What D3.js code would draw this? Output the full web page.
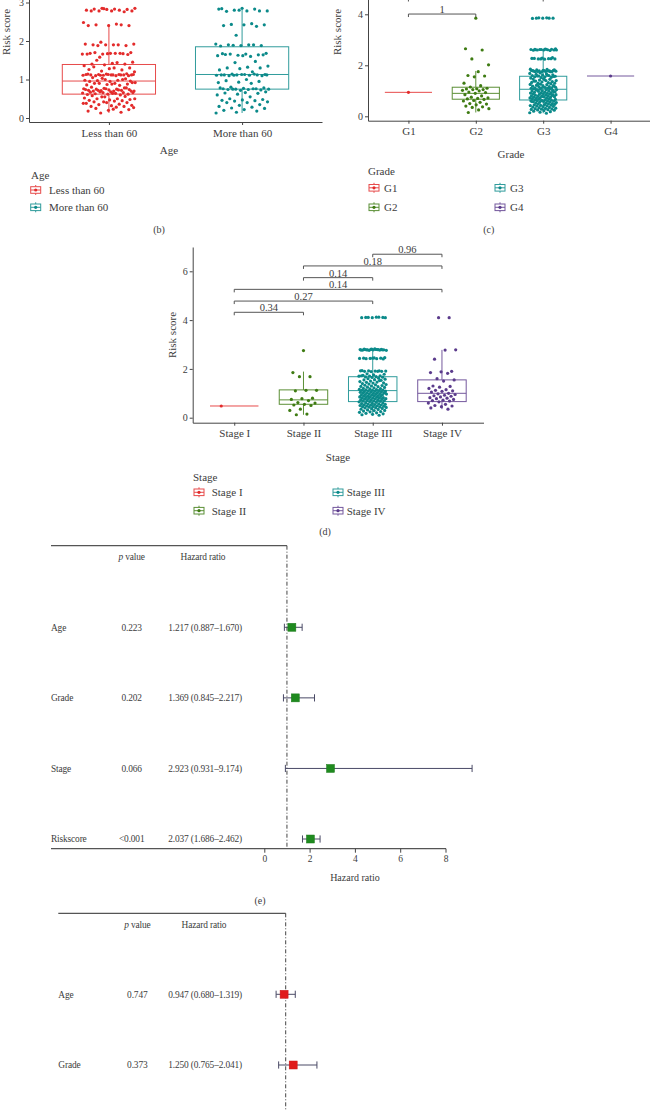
<!DOCTYPE html>
<html><head><meta charset="utf-8">
<script src="https://cdn.jsdelivr.net/npm/d3@7"></script>
<style>
body{margin:0;background:#fff}
svg{display:block;font-family:"Liberation Serif","DejaVu Serif",serif}
</style>
</head><body>
<svg id="chart" width="650" height="1110"></svg>
<script>
// ---------------- DATA ----------------
// Panel (b): risk score by age
const ageCats = ["Less than 60", "More than 60"];
const ageLess = [2.85,2.85,2.83,2.83,2.82,2.82,2.8,2.8,2.78,2.78,2.78,2.78,2.76,2.84,
  2.48,2.44,2.42,2.4,2.4,2.4,2.42,
  1.97,1.92,1.9,1.9,1.88,1.9,1.92,1.9,1.88,
  1.7,1.68,1.68,1.67,1.66,1.66,1.68,1.7,1.65,1.67,1.66,1.68,
  1.58,1.45,1.42,1.4,1.4,1.38,1.36,1.44,1.5,
  1.3,1.28,1.26,1.25,1.22,1.2,1.3,1.33,
  1.15,1.14,1.13,1.13,1.13,1.12,1.12,1.12,1.12,1.11,1.11,1.1,1.1,1.1,1.13,1.14,1.12,1.11,1.13,1.12,
  1.05,1.02,1.0,0.98,0.98,0.97,0.96,0.95,0.95,1.0,1.03,
  0.92,0.9,0.9,0.88,0.87,0.86,0.85,0.9,0.92,0.88,
  0.8,0.78,0.77,0.76,0.75,0.75,0.74,0.73,0.72,0.72,0.71,0.7,0.7,0.7,0.78,0.76,0.74,0.73,0.72,0.7,
  0.68,0.67,0.66,0.66,0.65,0.64,0.63,0.62,0.62,0.61,0.6,0.68,0.66,0.64,
  0.58,0.56,0.55,0.52,0.5,0.5,0.48,0.47,0.46,0.45,0.55,0.5,
  0.44,0.42,0.4,0.4,0.38,0.36,0.35,0.33,0.32,0.3,0.3,0.42,0.38,
  0.28,0.25,0.22,0.2,0.18,0.15,0.13,0.27,0.23];
const ageMore = [2.85,2.84,2.83,2.8,2.78,2.78,2.77,2.78,2.8,2.83,
  2.45,2.43,2.42,2.42,2.4,2.38,
  2.15,
  1.92,1.9,1.9,1.88,1.88,1.87,1.9,1.89,
  1.68,1.66,1.65,1.64,1.63,1.62,1.6,1.66,1.64,1.62,1.67,
  1.47,1.44,
  1.35,1.32,1.3,1.3,1.28,1.25,1.2,
  1.14,1.13,1.13,1.12,1.12,1.12,1.11,1.11,1.1,1.1,1.13,1.12,1.14,1.11,1.12,
  1.0,0.97,0.95,0.93,0.92,0.9,
  0.8,0.78,0.77,0.76,0.76,0.75,0.75,0.74,0.74,0.73,0.72,0.78,0.76,0.75,
  0.68,0.66,0.65,0.64,0.62,0.6,
  0.55,0.5,0.48,0.47,0.46,0.45,0.44,0.42,0.4,0.4,
  0.35,0.33,0.3,0.28,0.26,0.25,0.22,0.2,0.18,
  0.15,0.13];
const ageQ1 = [0.62, 0.75];
const ageMed = [0.96, 1.13];
const ageQ3 = [1.39, 1.85];
const ageLo = [0.13, 0.13];
const ageHi = [2.44, 2.82];
const ageYTicks = [0, 1, 2, 3];

// Panel (c): risk score by grade
const gradeCats = ["G1", "G2", "G3", "G4"];
const gradeG1 = [0.94];
const gradeG2 = [3.85,2.65,2.6,2.25,2.02,1.75,1.6,1.58,1.55,1.3,1.2,1.15,1.1,1.08,1.07,1.05,1.05,1.02,1.0,0.95,
  0.93,0.9,0.85,0.8,0.75,0.72,0.7,0.68,0.66,0.62,0.6,0.55,0.5,0.48,0.45,0.4,0.37,0.35,0.3,0.25,0.15];
const gradeG3 = [3.86,3.85,3.85,3.85,3.84,3.85,3.86,
  2.65,2.64,2.63,2.63,2.62,2.62,2.61,2.6,2.6,2.6,2.59,2.58,2.62,2.6,2.63,2.61,
  2.3,2.28,2.27,2.26,2.25,2.25,2.24,2.27,2.26,2.25,
  1.85,1.84,1.82,1.8,1.8,1.79,1.78,1.78,1.77,1.76,1.75,1.75,1.74,1.8,1.78,1.76,1.82,1.79,1.77,1.75,
  1.7,1.68,1.66,1.65,1.63,1.62,1.6,1.6,1.58,1.57,1.55,1.55,1.53,1.52,1.5,1.62,1.58,1.56,
  1.48,1.46,1.45,1.42,1.4,1.4,1.38,1.36,1.35,1.33,1.32,1.3,1.3,1.44,1.38,
  1.28,1.26,1.25,1.24,1.22,1.2,1.2,1.18,1.16,1.15,1.14,1.13,1.12,1.12,1.11,1.1,1.1,1.22,1.18,1.14,
  1.08,1.07,1.06,1.05,1.04,1.03,1.02,1.0,1.0,0.99,0.98,0.96,0.95,0.94,0.93,0.92,0.91,0.9,1.05,0.97,
  0.89,0.88,0.87,0.86,0.85,0.84,0.83,0.82,0.8,0.8,0.79,0.78,0.77,0.76,0.75,0.74,0.73,0.72,0.71,0.7,0.85,0.78,
  0.69,0.68,0.67,0.66,0.65,0.64,0.63,0.62,0.61,0.6,0.6,0.59,0.58,0.57,0.56,0.55,0.54,0.53,0.52,0.5,0.62,0.58,
  0.49,0.48,0.47,0.46,0.45,0.44,0.43,0.42,0.41,0.4,0.39,0.38,0.36,0.35,0.34,0.32,0.31,0.3,
  0.29,0.28,0.27,0.26,0.25,0.24,0.22,0.2,0.18,0.16,0.14,0.12];
const gradeG4 = [1.58];
const gradeQ1 = [0.94, 0.67, 0.64, 1.58];
const gradeMed = [0.94, 0.90, 1.06, 1.58];
const gradeQ3 = [0.94, 1.14, 1.57, 1.58];
const gradeLo = [0.94, 0.15, 0.12, 1.58];
const gradeHi = [0.94, 1.78, 2.62, 1.58];
const gradeYTicks = [0, 2, 4];
const gradeBracketFrom = ["G1", "G1"];
const gradeBracketTo = ["G2", "G3"];
const gradeBracketY = [4.01, 4.62];
const gradeBracketLabel = ["1", ""];

// Panel (d): risk score by stage
const stageCats = ["Stage I", "Stage II", "Stage III", "Stage IV"];
const stageI = [0.48];
const stageII = [2.75,1.85,1.68,1.68,1.12,1.12,1.1,0.8,0.78,0.75,0.7,0.62,0.6,0.55,0.52,0.5,0.35,0.3,0.15,0.12];
const stageIII = [4.12,4.11,4.11,4.1,4.1,4.12,4.11,4.1,
  2.82,2.81,2.8,2.8,2.79,2.79,2.78,2.78,2.78,2.77,2.77,2.76,2.76,2.8,2.79,2.78,2.81,2.77,2.79,2.78,
  2.46,2.45,2.44,2.44,2.43,2.43,2.42,2.42,2.41,2.44,
  1.93,1.92,1.92,1.91,1.91,1.9,1.9,1.89,1.92,1.9,
  1.8,1.78,1.76,1.74,1.72,1.7,1.7,1.68,1.67,1.66,1.65,1.72,
  1.62,1.6,1.58,1.56,1.55,1.53,1.5,1.48,1.46,1.45,1.43,1.42,1.4,1.52,
  1.38,1.36,1.35,1.33,1.32,1.3,1.28,1.27,1.25,1.24,1.22,1.2,1.19,1.18,1.16,1.15,1.14,1.13,1.12,1.12,1.11,1.1,
  1.09,1.08,1.07,1.06,1.05,1.04,1.03,1.02,1.01,1.0,1.0,0.99,0.98,0.97,0.96,0.95,0.94,0.93,0.92,0.91,0.9,1.04,
  0.89,0.88,0.87,0.86,0.85,0.84,0.83,0.82,0.81,0.8,0.8,0.79,0.78,0.77,0.76,0.75,0.74,0.73,0.72,0.71,0.7,0.69,0.68,0.67,0.66,0.65,0.63,0.61,
  0.6,0.59,0.58,0.57,0.56,0.55,0.54,0.53,0.52,0.51,0.5,0.49,0.48,0.47,0.46,0.45,0.44,0.43,0.42,0.41,
  0.4,0.38,0.37,0.35,0.34,0.32,0.3,0.29,0.27,0.25,0.24,0.22,0.2,0.18,0.16,0.14,0.12,0.1];
const stageIV = [4.1,4.1,2.78,2.77,2.4,1.9,1.88,1.85,1.82,1.6,1.55,1.5,1.3,1.28,1.25,1.2,1.15,1.12,1.1,1.08,
  1.05,1.0,0.98,0.95,0.92,0.9,0.88,0.85,0.82,0.8,0.78,0.75,0.72,0.7,0.68,0.65,0.6,0.55,0.5,0.48,0.45,0.4,0.35];
const stageQ1 = [0.48, 0.55, 0.66, 0.66];
const stageMed = [0.48, 0.73, 1.11, 1.00];
const stageQ3 = [0.48, 1.14, 1.68, 1.55];
const stageLo = [0.48, 0.12, 0.10, 0.35];
const stageHi = [0.48, 1.89, 2.78, 2.78];
const stageYTicks = [0, 2, 4, 6];
const stageBracketFrom = ["Stage I", "Stage I", "Stage I", "Stage II", "Stage II", "Stage III"];
const stageBracketTo = ["Stage II", "Stage III", "Stage IV", "Stage III", "Stage IV", "Stage IV"];
const stageBracketY = [4.32, 4.78, 5.26, 5.74, 6.22, 6.70];
const stageBracketLabel = ["0.34", "0.27", "0.14", "0.14", "0.18", "0.96"];

// Panel (e): univariate forest
const eVars = ["Age", "Grade", "Stage", "Riskscore"];
const eP = ["0.223", "0.202", "0.066", "<0.001"];
const eHR = [1.217, 1.369, 2.923, 2.037];
const eLo = [0.887, 0.845, 0.931, 1.686];
const eHi = [1.670, 2.217, 9.174, 2.462];
const forestTicks = [0, 2, 4, 6, 8];

// Panel (f): multivariate forest (visible rows)
const fVars = ["Age", "Grade"];
const fP = ["0.747", "0.373"];
const fHR = [0.947, 1.250];
const fLo = [0.680, 0.765];
const fHi = [1.319, 2.041];

// ---------------- STYLE ----------------
const RED = "#e32b2b", TEAL = "#0b8a8a", GREEN = "#3e7b12", PURPLE = "#5b3b8c";
const TXT = "#3c3c3c", AX = "#444";
const svg = d3.select("#chart");

function lighten(c, t) { return d3.interpolateRgb(c, "#ffffff")(t); }
function jit(i, seed) { return ((i * 0.6180339887 + seed) % 1) - 0.5; }

function styleAxis(sel, fs) {
  sel.attr("font-family", null).attr("font-size", null);
  sel.selectAll("path.domain").attr("stroke", AX).attr("stroke-width", 1);
  sel.selectAll(".tick line").attr("stroke", AX).attr("stroke-width", 1);
  sel.selectAll(".tick text").attr("fill", TXT).style("font-size", fs + "px");
}

function legendKey(g, cx, cy, color) {
  const lc = lighten(color, 0.15);
  g.append("line").attr("x1", cx).attr("x2", cx).attr("y1", cy - 5).attr("y2", cy + 5).attr("stroke", lc);
  g.append("rect").attr("x", cx - 5).attr("y", cy - 3.3).attr("width", 10).attr("height", 6.6)
    .attr("fill", "#fff").attr("stroke", lc);
  g.append("line").attr("x1", cx - 5).attr("x2", cx + 5).attr("y1", cy).attr("y2", cy).attr("stroke", lc);
  g.append("circle").attr("cx", cx).attr("cy", cy).attr("r", 1.6).attr("fill", color);
}

function boxPanel(o) {
  const g = svg.append("g");
  const x = d3.scalePoint().domain(o.cats).range([o.left, o.right]).padding(0.6);
  const step = x.step();
  const y = d3.scaleLinear().domain([0, 1]).range([o.zeroY, o.zeroY - o.unit]);
  const yAx = d3.scaleLinear().domain([y.invert(o.bottom), y.invert(o.top)]).range([o.bottom, o.top]);

  const ya = g.append("g").attr("transform", `translate(${o.left},0)`)
    .call(d3.axisLeft(yAx).tickValues(o.yTicks).tickSize(3).tickSizeOuter(0).tickPadding(2).tickFormat(d3.format("d")));
  styleAxis(ya, 10);
  const xa = g.append("g").attr("transform", `translate(0,${o.bottom})`)
    .call(d3.axisBottom(x).tickSize(3).tickSizeOuter(0).tickPadding(4));
  styleAxis(xa, 11);

  const bw = step * 0.7;
  o.cats.forEach((c, i) => {
    const cx = x(c), col = lighten(o.colors[i], 0.15);
    const bg = g.append("g").attr("stroke", col).attr("stroke-width", 1).attr("fill", "none");
    bg.append("line").attr("x1", cx).attr("x2", cx).attr("y1", y(o.hi[i])).attr("y2", y(o.q3[i]));
    bg.append("line").attr("x1", cx).attr("x2", cx).attr("y1", y(o.q1[i])).attr("y2", y(o.lo[i]));
    bg.append("rect").attr("x", cx - bw / 2).attr("width", bw)
      .attr("y", y(o.q3[i])).attr("height", Math.max(0, y(o.q1[i]) - y(o.q3[i])));
    bg.append("line").attr("x1", cx - bw / 2).attr("x2", cx + bw / 2).attr("y1", y(o.med[i])).attr("y2", y(o.med[i]));
  });
  o.cats.forEach((c, i) => {
    const vals = o.groups[i];
    const jw = vals.length > 1 ? step * 0.2 : o.singleJit[i];
    g.append("g").selectAll("circle").data(vals).join("circle")
      .attr("cx", (d, k) => x(c) + (vals.length > 1 ? jit(k, 0.37 + i * 0.13) * 2 * jw : jw))
      .attr("cy", d => y(d))
      .attr("r", 1.6).attr("fill", o.colors[i]);
  });
  if (o.brFrom) {
    o.brFrom.forEach((f, i) => {
      const x1 = x(f), x2 = x(o.brTo[i]), by = y(o.brY[i]);
      g.append("path").attr("d", `M${x1},${by + 3}V${by}H${x2}V${by + 3}`)
        .attr("fill", "none").attr("stroke", "#555").attr("stroke-width", 1);
      g.append("text").attr("x", (x1 + x2) / 2).attr("y", by - 1).attr("text-anchor", "middle")
        .attr("font-size", 10.5).attr("fill", TXT).text(o.brLabel[i]);
    });
  }
  g.append("text").attr("transform", `translate(${o.yTitleX},${o.yTitleY}) rotate(-90)`)
    .attr("text-anchor", "middle").attr("font-size", 11).attr("fill", TXT).text("Risk score");
  g.append("text").attr("x", o.xTitleX).attr("y", o.xTitleY).attr("dy", "0.35em").attr("text-anchor", "middle")
    .attr("font-size", 11).attr("fill", TXT).text(o.title);
  g.append("text").attr("x", o.legTitle[0]).attr("y", o.legTitle[1]).attr("dy", "0.35em")
    .attr("font-size", 11).attr("fill", TXT).text(o.title);
  o.cats.forEach((c, i) => {
    const p = o.legPos[i];
    legendKey(g, p[0], p[1], o.colors[i]);
    g.append("text").attr("x", p[2]).attr("y", p[1]).attr("dy", "0.35em")
      .attr("font-size", 11).attr("fill", TXT).text(c);
  });
  g.append("text").attr("x", o.tag[0]).attr("y", o.tag[1]).attr("dy", "0.35em").attr("text-anchor", "middle")
    .attr("font-size", 10).attr("fill", TXT).text(o.tag[2]);
}

boxPanel({
  cats: ageCats, groups: [ageLess, ageMore], colors: [RED, TEAL],
  q1: ageQ1, med: ageMed, q3: ageQ3, lo: ageLo, hi: ageHi, singleJit: [0, 0],
  left: 29, right: 322, bottom: 122, top: -10, zeroY: 118, unit: 38.5, yTicks: ageYTicks,
  yTitleX: 10, yTitleY: 32, xTitleX: 169, xTitleY: 150, title: "Age",
  legTitle: [31, 175], legPos: [[35.7, 190, 49], [35.7, 207.3, 49]], tag: [159, 229.5, "(b)"]
});
boxPanel({
  cats: gradeCats, groups: [gradeG1, gradeG2, gradeG3, gradeG4], colors: [RED, GREEN, TEAL, PURPLE],
  q1: gradeQ1, med: gradeMed, q3: gradeQ3, lo: gradeLo, hi: gradeHi, singleJit: [0, 0, 0, 0],
  left: 368, right: 651, bottom: 120.7, top: -10, zeroY: 116.3, unit: 25.5, yTicks: gradeYTicks,
  brFrom: gradeBracketFrom, brTo: gradeBracketTo, brY: gradeBracketY, brLabel: gradeBracketLabel,
  yTitleX: 341, yTitleY: 32, xTitleX: 511, xTitleY: 154.5, title: "Grade",
  legTitle: [368, 171.5], legPos: [[374, 187.8, 384], [374, 207.3, 384], [500, 187.8, 510], [500, 207.3, 510]],
  tag: [488.7, 229.5, "(c)"]
});
boxPanel({
  cats: stageCats, groups: [stageI, stageII, stageIII, stageIV], colors: [RED, GREEN, TEAL, PURPLE],
  q1: stageQ1, med: stageMed, q3: stageQ3, lo: stageLo, hi: stageHi, singleJit: [-13, 0, 0, 0],
  left: 192.7, right: 483.5, bottom: 422.7, top: 247, zeroY: 417.7, unit: 24.4, yTicks: stageYTicks,
  brFrom: stageBracketFrom, brTo: stageBracketTo, brY: stageBracketY, brLabel: stageBracketLabel,
  yTitleX: 176, yTitleY: 335, xTitleX: 338, xTitleY: 457, title: "Stage",
  legTitle: [193, 476.7], legPos: [[199, 492.3, 211.7], [199, 510.7, 211.7], [338, 492.3, 346.7], [338, 510.7, 346.7]],
  tag: [325, 531.5, "(d)"]
});

// ---------------- FOREST PLOTS ----------------
const FS = 9.4;
function ftext(g, x, y, anchor, txt) {
  return g.append("text").attr("x", x).attr("y", y).attr("dy", "0.35em").attr("text-anchor", anchor)
    .attr("font-size", FS).attr("letter-spacing", "-0.15px").attr("fill", TXT).text(txt);
}
function forest(o) {
  const g = svg.append("g");
  const x = d3.scaleLinear().domain([0, 1]).range([o.x0, o.x0 + o.unit]);
  const rows = d3.scalePoint().domain(o.vars).range([o.row0, o.row0 + o.rowStep * (o.vars.length - 1)]);
  const xr = x(1);
  g.append("line").attr("x1", o.left).attr("x2", xr).attr("y1", o.topY).attr("y2", o.topY)
    .attr("stroke", "#555").attr("stroke-width", 1.3);
  g.append("line").attr("x1", xr).attr("x2", xr).attr("y1", o.topY).attr("y2", o.refEnd)
    .attr("stroke", "#444").attr("stroke-width", 1).attr("stroke-dasharray", "4,2,1,2");
  const h = ftext(g, o.pX, o.headY, "middle", null);
  h.append("tspan").attr("font-style", "italic").text("p");
  h.append("tspan").text(" value");
  ftext(g, o.hrHeadX, o.headY, "middle", "Hazard ratio");
  o.vars.forEach((v, i) => {
    const ry = rows(v);
    ftext(g, o.left, ry, "start", v);
    ftext(g, o.pX, ry, "middle", o.p[i]);
    ftext(g, o.hrX, ry, "start", `${o.hr[i].toFixed(3)} (${o.lo[i].toFixed(3)}\u2013${o.hi[i].toFixed(3)})`);
    const lc = "#4a4a66";
    g.append("line").attr("x1", x(o.lo[i])).attr("x2", x(o.hi[i])).attr("y1", ry).attr("y2", ry).attr("stroke", lc);
    [o.lo[i], o.hi[i]].forEach(e => g.append("line").attr("x1", x(e)).attr("x2", x(e))
      .attr("y1", ry - 3.6).attr("y2", ry + 3.6).attr("stroke", lc));
    g.append("rect").attr("x", x(o.hr[i]) - 4).attr("y", ry - 4).attr("width", 8).attr("height", 8)
      .attr("fill", o.color).attr("stroke", d3.color(o.color).darker(0.3)).attr("stroke-width", 0.5);
  });
  if (o.axisY !== undefined) {
    g.append("line").attr("x1", o.left).attr("x2", x(o.ticks[o.ticks.length - 1]) + 0.5)
      .attr("y1", o.axisY).attr("y2", o.axisY).attr("stroke", "#555").attr("stroke-width", 1.3);
    const ax = g.append("g").attr("transform", `translate(0,${o.axisY})`)
      .call(d3.axisBottom(x).tickValues(o.ticks).tickSize(4).tickPadding(3).tickFormat(d3.format("d")));
    ax.select("path.domain").remove();
    styleAxis(ax, 9.5);
    g.append("text").attr("x", o.axTitleX).attr("y", o.axTitleY).attr("dy", "0.35em").attr("text-anchor", "middle")
      .attr("font-size", 10).attr("fill", TXT).text("Hazard ratio");
  }
  if (o.tag) g.append("text").attr("x", o.tag[0]).attr("y", o.tag[1]).attr("dy", "0.35em").attr("text-anchor", "middle")
    .attr("font-size", 10).attr("fill", TXT).text(o.tag[2]);
}

forest({
  vars: eVars, p: eP, hr: eHR, lo: eLo, hi: eHi, color: "#1f8a1f", ticks: forestTicks,
  left: 51, x0: 264.3, unit: 22.65, topY: 545.7, refEnd: 848.7, headY: 556.7,
  pX: 131.7, hrHeadX: 203, hrX: 168.3, row0: 627.3, rowStep: 70.57,
  axisY: 848.7, axTitleX: 355, axTitleY: 877.7, tag: [260, 900, "(e)"]
});
forest({
  vars: fVars, p: fP, hr: fHR, lo: fLo, hi: fHi, color: "#e01b1b",
  left: 58.3, x0: 255.7, unit: 30, topY: 913.3, refEnd: 1112, headY: 924.3,
  pX: 137.3, hrHeadX: 204, hrX: 168.3, row0: 994.3, rowStep: 70.7
});
</script>
</body></html>
